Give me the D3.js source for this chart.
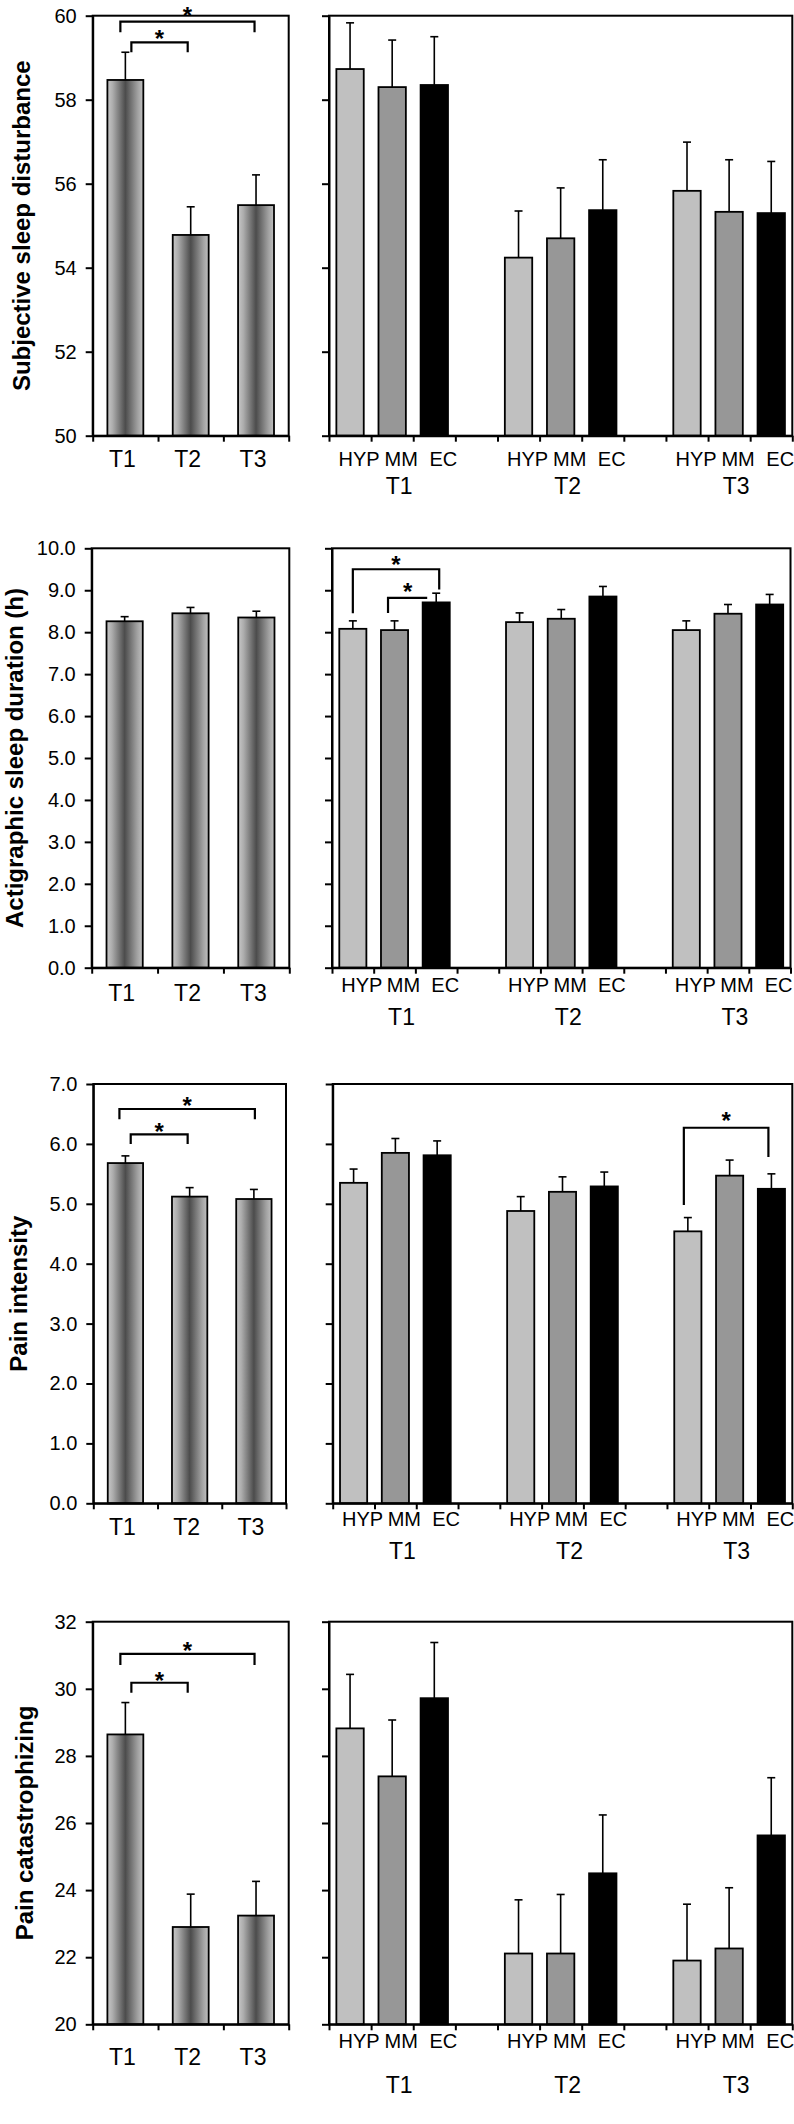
<!DOCTYPE html>
<html><head><meta charset="utf-8">
<script src="https://cdn.jsdelivr.net/npm/d3@7"></script>
<style>
body{margin:0;background:#fff}
svg{display:block}
text{font-family:"Liberation Sans",Arial,Helvetica,sans-serif;fill:#000}
</style>
</head><body>
<svg id="chart" width="794" height="2124"></svg>
<script>
// ================= DATA =================
const timepoints = ["T1", "T2", "T3"];
const groups = ["HYP", "MM", "EC"];
const measures = ["Subjective sleep disturbance", "Actigraphic sleep duration (h)", "Pain intensity", "Pain catastrophizing"];

// y-axis domains and tick values
const sleepDistDomain = [50, 60];
const sleepDistTicks = [50, 52, 54, 56, 58, 60];
const sleepDurDomain = [0, 10];
const sleepDurTicks = [0, 1, 2, 3, 4, 5, 6, 7, 8, 9, 10];
const painIntDomain = [0, 7];
const painIntTicks = [0, 1, 2, 3, 4, 5, 6, 7];
const painCatDomain = [20, 32];
const painCatTicks = [20, 22, 24, 26, 28, 30, 32];

// Subjective sleep disturbance
const sleepDistAll = [58.47, 54.78, 55.49];
const sleepDistAllErr = [0.66, 0.67, 0.72];
const sleepDistHYP = [58.73, 54.24, 55.83];
const sleepDistHYPErr = [1.10, 1.11, 1.16];
const sleepDistMM = [58.30, 54.70, 55.33];
const sleepDistMMErr = [1.12, 1.20, 1.24];
const sleepDistEC = [58.35, 55.37, 55.30];
const sleepDistECErr = [1.15, 1.20, 1.23];

// Actigraphic sleep duration (h)
const sleepDurAll = [8.26, 8.45, 8.35];
const sleepDurAllErr = [0.11, 0.14, 0.15];
const sleepDurHYP = [8.08, 8.24, 8.05];
const sleepDurHYPErr = [0.19, 0.22, 0.22];
const sleepDurMM = [8.05, 8.32, 8.44];
const sleepDurMMErr = [0.22, 0.22, 0.22];
const sleepDurEC = [8.71, 8.85, 8.66];
const sleepDurECErr = [0.22, 0.24, 0.24];

// Pain intensity
const painIntAll = [5.68, 5.12, 5.08];
const painIntAllErr = [0.12, 0.15, 0.16];
const painIntHYP = [5.35, 4.88, 4.54];
const painIntHYPErr = [0.23, 0.24, 0.23];
const painIntMM = [5.85, 5.20, 5.47];
const painIntMMErr = [0.24, 0.25, 0.26];
const painIntEC = [5.81, 5.29, 5.25];
const painIntECErr = [0.24, 0.24, 0.25];

// Pain catastrophizing
const painCatAll = [28.64, 22.90, 23.24];
const painCatAllErr = [0.95, 0.98, 1.02];
const painCatHYP = [28.82, 22.11, 21.90];
const painCatHYPErr = [1.61, 1.60, 1.68];
const painCatMM = [27.39, 22.11, 22.26];
const painCatMMErr = [1.68, 1.76, 1.81];
const painCatEC = [29.72, 24.50, 25.63];
const painCatECErr = [1.66, 1.74, 1.72];

// Significance brackets (levels in data units; legTo null = no leg)
const sleepDistLeftSig = [
  {from: "T1", to: "T3", level: 59.857, legFrom: 59.605, legTo: 59.605, star: 60.136},
  {from: "T1", to: "T2", level: 59.367, legFrom: 59.13, legTo: 59.13, star: 59.58}
];
const sleepDurRightSig = [
  {from: "T1|HYP", to: "T1|EC", level: 9.50, legFrom: 8.45, legTo: 9.02, star: 9.74},
  {from: "T1|MM", to: "T1|EC", level: 8.82, legFrom: 8.46, legTo: null, star: 9.10}
];
const painIntLeftSig = [
  {from: "T1", to: "T3", level: 6.583, legFrom: 6.41, legTo: 6.41, star: 6.733},
  {from: "T1", to: "T2", level: 6.16, legFrom: 6.0, legTo: 6.0, star: 6.30}
];
const painIntRightSig = [
  {from: "T3|HYP", to: "T3|EC", level: 6.27, legFrom: 4.98, legTo: 5.78, star: 6.47}
];
const painCatLeftSig = [
  {from: "T1", to: "T3", level: 31.04, legFrom: 30.71, legTo: 30.71, star: 31.31},
  {from: "T1", to: "T2", level: 30.18, legFrom: 29.88, legTo: 29.88, star: 30.41}
];

// ================= LAYOUT (pixels) =================
const layout = [
  {top: 15.7, bottom: 435.7, lx0: 92.7, lx1: 288.7, rx0: 329, rx1: 792.3, tY: 31, grpY: 30, rtY: 58, titleX: 30},
  {top: 548.3, bottom: 967.7, lx0: 91.7, lx1: 289.3, rx0: 332, rx1: 790.5, tY: 33, grpY: 24, rtY: 57, titleX: 23},
  {top: 1084, bottom: 1503.3, lx0: 93.3, lx1: 286, rx0: 332.7, rx1: 792.3, tY: 32, grpY: 23, rtY: 56, titleX: 27},
  {top: 1621.7, bottom: 2024.3, lx0: 92.7, lx1: 288.7, rx0: 329, rx1: 792.3, tY: 41, grpY: 24, rtY: 69, titleX: 33}
];
// horizontal nudges of bracket ends (px), parallel to the bracket arrays
const leftNudges = [[-5, -1.5], [6, -3]];
const rightNudgesDur = [[0, 3], [-6.5, -9]];
const rightNudgesPain = [[-4, -3]];

const panels = [
  {title: measures[0], domain: sleepDistDomain, ticks: sleepDistTicks, fmt: d3.format("d"),
   all: sleepDistAll, allErr: sleepDistAllErr,
   grp: [sleepDistHYP, sleepDistMM, sleepDistEC], grpErr: [sleepDistHYPErr, sleepDistMMErr, sleepDistECErr],
   leftSig: sleepDistLeftSig, leftNudge: leftNudges, rightSig: [], rightNudge: []},
  {title: measures[1], domain: sleepDurDomain, ticks: sleepDurTicks, fmt: d3.format(".1f"),
   all: sleepDurAll, allErr: sleepDurAllErr,
   grp: [sleepDurHYP, sleepDurMM, sleepDurEC], grpErr: [sleepDurHYPErr, sleepDurMMErr, sleepDurECErr],
   leftSig: [], leftNudge: [], rightSig: sleepDurRightSig, rightNudge: rightNudgesDur},
  {title: measures[2], domain: painIntDomain, ticks: painIntTicks, fmt: d3.format(".1f"),
   all: painIntAll, allErr: painIntAllErr,
   grp: [painIntHYP, painIntMM, painIntEC], grpErr: [painIntHYPErr, painIntMMErr, painIntECErr],
   leftSig: painIntLeftSig, leftNudge: [[-6, 1], [5.3, -2]], rightSig: painIntRightSig, rightNudge: rightNudgesPain},
  {title: measures[3], domain: painCatDomain, ticks: painCatTicks, fmt: d3.format("d"),
   all: painCatAll, allErr: painCatAllErr,
   grp: [painCatHYP, painCatMM, painCatEC], grpErr: [painCatHYPErr, painCatMMErr, painCatECErr],
   leftSig: painCatLeftSig, leftNudge: leftNudges, rightSig: [], rightNudge: []}
];

const groupColors = {HYP: "#c0c0c0", MM: "#979797", EC: "#000000"};

// slots for the grouped panel: HYP MM EC [gap] HYP MM EC [gap] HYP MM EC
const slots = [];
timepoints.forEach((t, i) => {
  groups.forEach(g => slots.push(t + "|" + g));
  if (i < timepoints.length - 1) slots.push("gap" + i);
});

// ================= DRAW =================
const svg = d3.select("#chart");
const defs = svg.append("defs");
const grad = defs.append("linearGradient").attr("id", "cyl")
  .attr("x1", "0").attr("x2", "1").attr("y1", "0").attr("y2", "0");
[[0, "#c8c8c8"], [0.15, "#acacac"], [0.5, "#4c4c4c"], [0.85, "#a2a2a2"], [1, "#c0c0c0"]]
  .forEach(([o, c]) => grad.append("stop").attr("offset", o).attr("stop-color", c));

const LW = 2;
const CAP = 8;
const FS_TICK = 20, FS_T = 23, FS_GRP = 20, FS_TITLE = 24, FS_STAR = 24;

function styleAxis(g, fs) {
  g.attr("font-family", null).attr("font-size", null);
  g.selectAll(".tick line").attr("stroke", "#000").attr("stroke-width", LW);
  g.selectAll(".domain").attr("stroke", "#000").attr("stroke-width", LW);
  g.selectAll(".tick text").attr("font-size", fs).attr("fill", "#000");
}

function drawErr(g, cx, y0, y1) {
  g.append("line").attr("x1", cx).attr("x2", cx).attr("y1", y0).attr("y2", y1)
    .attr("stroke", "#000").attr("stroke-width", 1.6);
  g.append("line").attr("x1", cx - CAP / 2).attr("x2", cx + CAP / 2).attr("y1", y1).attr("y2", y1)
    .attr("stroke", "#000").attr("stroke-width", 1.6);
}

function drawSig(g, sig, nudges, xc, y) {
  sig.forEach((s, i) => {
    const xa = xc(s.from) + nudges[i][0];
    const xb = xc(s.to) + nudges[i][1];
    const pts = [];
    pts.push([xa, y(s.legFrom)], [xa, y(s.level)], [xb, y(s.level)]);
    if (s.legTo !== null) pts.push([xb, y(s.legTo)]);
    g.append("path").attr("d", d3.line()(pts)).attr("fill", "none")
      .attr("stroke", "#000").attr("stroke-width", 2.2).attr("stroke-linejoin", "miter");
    g.append("text").attr("x", (xa + xb) / 2).attr("y", y(s.star) + FS_STAR * 0.57)
      .attr("text-anchor", "middle").attr("font-size", FS_STAR).attr("font-weight", "bold").text("*");
  });
}

panels.forEach((p, pi) => {
  const L = layout[pi];
  const y = d3.scaleLinear().domain(p.domain).range([L.bottom, L.top]);
  const base = y(p.domain[0]);

  // ---------- LEFT PANEL (overall) ----------
  const gL = svg.append("g");
  const xl = d3.scaleBand().domain(timepoints).range([L.lx0, L.lx1]).paddingInner(0.45).paddingOuter(0.225);
  const xlc = t => xl(t) + xl.bandwidth() / 2;

  gL.selectAll("rect.bar").data(timepoints).join("rect").attr("class", "bar")
    .attr("x", t => xl(t)).attr("width", xl.bandwidth())
    .attr("y", (t, i) => y(p.all[i])).attr("height", (t, i) => base - y(p.all[i]))
    .attr("fill", "url(#cyl)").attr("stroke", "#000").attr("stroke-width", 1.8);
  timepoints.forEach((t, i) => drawErr(gL, xlc(t), y(p.all[i]), y(p.all[i] + p.allErr[i])));

  gL.append("rect").attr("x", L.lx0).attr("y", L.top).attr("width", L.lx1 - L.lx0).attr("height", L.bottom - L.top)
    .attr("fill", "none").attr("stroke", "#000").attr("stroke-width", LW);

  gL.append("g").attr("transform", `translate(${L.lx0},0)`)
    .call(d3.axisLeft(y).tickValues(p.ticks).tickFormat(p.fmt).tickSize(7).tickSizeOuter(0).tickPadding(9))
    .call(g => styleAxis(g, FS_TICK));

  const xlIdx = d3.scaleLinear().domain([0, timepoints.length]).range([L.lx0, L.lx1]);
  gL.append("g").attr("transform", `translate(0,${L.bottom})`)
    .call(d3.axisBottom(xlIdx).tickValues(d3.range(timepoints.length + 1)).tickFormat("").tickSize(6).tickSizeOuter(0))
    .call(g => styleAxis(g, FS_TICK));

  gL.selectAll("text.tl").data(timepoints).join("text").attr("class", "tl")
    .attr("x", t => xlc(t) - 3).attr("y", L.bottom + L.tY)
    .attr("text-anchor", "middle").attr("font-size", FS_T).text(t => t);

  drawSig(gL, p.leftSig, p.leftNudge, xlc, y);

  gL.append("text")
    .attr("transform", `translate(${L.titleX},${(L.top + L.bottom) / 2}) rotate(-90)`)
    .attr("text-anchor", "middle").attr("font-size", FS_TITLE).attr("font-weight", "bold")
    .text(p.title);

  // ---------- RIGHT PANEL (by group) ----------
  const gR = svg.append("g");
  const xr = d3.scaleBand().domain(slots).range([L.rx0, L.rx1]).paddingInner(0.35).paddingOuter(0.175);
  const xrc = s => xr(s) + xr.bandwidth() / 2;

  const barData = [];
  timepoints.forEach((t, ti) => groups.forEach((g, gi) => {
    barData.push({slot: t + "|" + g, group: g, v: p.grp[gi][ti], e: p.grpErr[gi][ti]});
  }));

  gR.selectAll("rect.bar").data(barData).join("rect").attr("class", "bar")
    .attr("x", d => xr(d.slot)).attr("width", xr.bandwidth())
    .attr("y", d => y(d.v)).attr("height", d => base - y(d.v))
    .attr("fill", d => groupColors[d.group]).attr("stroke", "#000").attr("stroke-width", 1.8);
  barData.forEach(d => drawErr(gR, xrc(d.slot), y(d.v), y(d.v + d.e)));

  gR.append("rect").attr("x", L.rx0).attr("y", L.top).attr("width", L.rx1 - L.rx0).attr("height", L.bottom - L.top)
    .attr("fill", "none").attr("stroke", "#000").attr("stroke-width", LW);

  gR.append("g").attr("transform", `translate(${L.rx0},0)`)
    .call(d3.axisLeft(y).tickValues(p.ticks).tickFormat("").tickSize(7).tickSizeOuter(0))
    .call(g => styleAxis(g, FS_TICK));

  const xrIdx = d3.scaleLinear().domain([0, slots.length]).range([L.rx0, L.rx1]);
  gR.append("g").attr("transform", `translate(0,${L.bottom})`)
    .call(d3.axisBottom(xrIdx).tickValues(d3.range(slots.length + 1)).tickFormat("").tickSize(6).tickSizeOuter(0))
    .call(g => styleAxis(g, FS_TICK));

  gR.selectAll("text.gl").data(barData).join("text").attr("class", "gl")
    .attr("x", d => xrc(d.slot) + 9).attr("y", L.bottom + L.grpY)
    .attr("text-anchor", "middle").attr("font-size", FS_GRP).text(d => d.group);

  gR.selectAll("text.rt").data(timepoints).join("text").attr("class", "rt")
    .attr("x", t => xrc(t + "|MM") + 7).attr("y", L.bottom + L.rtY)
    .attr("text-anchor", "middle").attr("font-size", FS_T).text(t => t);

  drawSig(gR, p.rightSig, p.rightNudge, xrc, y);
});
</script>
</body></html>
